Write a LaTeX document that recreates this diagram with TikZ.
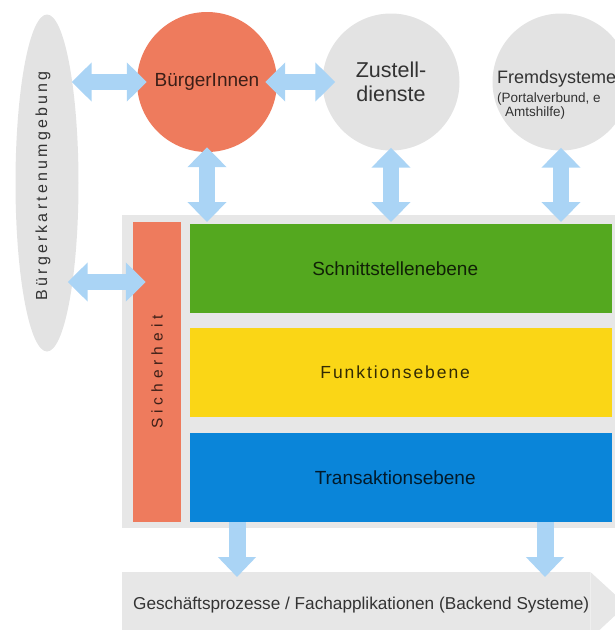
\documentclass[tikz,border=0pt]{standalone}
\usepackage{fontspec}
\setmainfont{Liberation Sans}
\newfontfamily\widefont[LetterSpace=20]{Liberation Sans}
\newfontfamily\midfont[LetterSpace=11]{Liberation Sans}
\newfontfamily\extrawidefont[LetterSpace=32]{Liberation Sans}
\usepackage{xcolor}
\usetikzlibrary{arrows.meta,shapes.geometric}

\definecolor{warmred}{HTML}{EE7B5D}
\definecolor{softgray}{HTML}{E3E3E3}
\definecolor{boxgray}{HTML}{E7E7E7}
\definecolor{layergreen}{HTML}{54A81F}
\definecolor{layeryellow}{HTML}{FAD616}
\definecolor{layerblue}{HTML}{0A85D9}
\definecolor{skyblue}{HTML}{AAD4F5}
\definecolor{labelgray}{HTML}{333333}

\begin{document}
\begin{tikzpicture}[x=1pt, y=-1pt,
                partner/.style={circle, fill=softgray, minimum size=137pt, inner sep=0pt, align=center, text=labelgray},
                layer/.style={anchor=north west, minimum width=422pt, minimum height=89pt, inner sep=0pt, text=black, text opacity=0.8, font=\fontsize{19}{21}\selectfont},
                twoway/.style={draw=skyblue, line width=16pt, {Triangle[width=38pt,length=20pt]}-{Triangle[width=38pt,length=20pt]}},
                oneway/.style={draw=skyblue, line width=17pt, -{Triangle[width=37pt,length=20pt]}}
            ]
            \useasboundingbox (0,0) rectangle (615,630);
            \clip (0,0) rectangle (615,630);

            % Plattform
            \node[fill=boxgray, anchor=north west, minimum width=510pt, minimum height=313pt, inner sep=0pt] (main) at (122,215) {};
            \node[layer, fill=layergreen] (schnitt) at (190,224) {\hspace*{-12pt}Schnittstellenebene};
            \node[layer, fill=layeryellow, font=\midfont\fontsize{17.5}{20}\selectfont] (funktion) at (190,328) {\hspace*{-12pt}Funktionsebene};
            \node[layer, fill=layerblue] (transaktion) at (190,433) {\hspace*{-12pt}Transaktionsebene};
            \node[rotate=90, fill=warmred, minimum width=300pt, minimum height=48pt, inner sep=0pt, text=black, text opacity=0.75, font=\extrawidefont\fontsize{15.5}{18}\selectfont] (sicher) at (157,372) {Sicherheit};

            % Backend
            \node[fill=boxgray, anchor=north west, minimum width=468pt, minimum height=66pt, inner sep=0pt, text=labelgray, font=\fontsize{17.2}{20}\selectfont] (backend) at (122,572) {\hspace*{10pt}Geschäftsprozesse / Fachapplikationen (Backend Systeme)};
            \fill[boxgray] (backend.north east) -- ++(36,33) -- (backend.south east) -- cycle;

            % Umgebung
            \node[ellipse, fill=softgray, minimum width=63pt, minimum height=337pt, inner sep=0pt] (karte) at (47,183) {};
            \node[rotate=90, text=labelgray, font=\widefont\fontsize{16}{18}\selectfont] (kartetext) at (43,186) {Bürgerkartenumgebung};

            \node[partner, fill=warmred, minimum size=140pt, text=black, text opacity=0.75, font=\fontsize{19}{21}\selectfont] (buerger) at (207,82) {BürgerInnen};
            \node[partner, font=\fontsize{21.5}{24}\selectfont] (zustell) at (391,82) {Zustell-\\dienste};
            \node[partner] (fremd) at (561,82) {};
            \node[anchor=base west, inner sep=0pt, text=labelgray, font=\fontsize{18}{20}\selectfont] (fremdtitel) at (497,83) {Fremdsysteme};
            \node[anchor=base west, inner sep=0pt, text=labelgray, font=\fontsize{13.5}{15}\selectfont] (fremdzeile) at (497,102) {(Portalverbund, e};
            \node[anchor=base west, inner sep=0pt, text=labelgray, font=\fontsize{13.5}{15}\selectfont] (fremdamt) at (505,116) {Amtshilfe)};

            % Pfeile
            \draw[twoway] ([xshift=-7pt]karte.east |- buerger.west) -- ([xshift=10pt]buerger.west);
            \draw[twoway] ([xshift=-12pt]buerger.east) -- ([xshift=13pt]zustell.west);
            \draw[twoway] ([xshift=-11pt]karte.east |- 0,282) -- ([xshift=13pt]sicher.north |- 0,282);
            \draw[twoway] ([yshift=5pt]buerger.south) -- ([yshift=2pt]buerger.south |- schnitt.north);
            \draw[twoway] ([yshift=3pt]zustell.south) -- ([yshift=2pt]zustell.south |- schnitt.north);
            \draw[twoway] ([yshift=3pt]fremd.south) -- ([yshift=2pt]fremd.south |- schnitt.north);
            \draw[oneway] ([yshift=6pt]main.south -| 237,0) -- ([yshift=-5pt]backend.north -| 237,0);
            \draw[oneway] ([yshift=6pt]main.south -| 545,0) -- ([yshift=-5pt]backend.north -| 545,0);

\end{tikzpicture}
\end{document}
